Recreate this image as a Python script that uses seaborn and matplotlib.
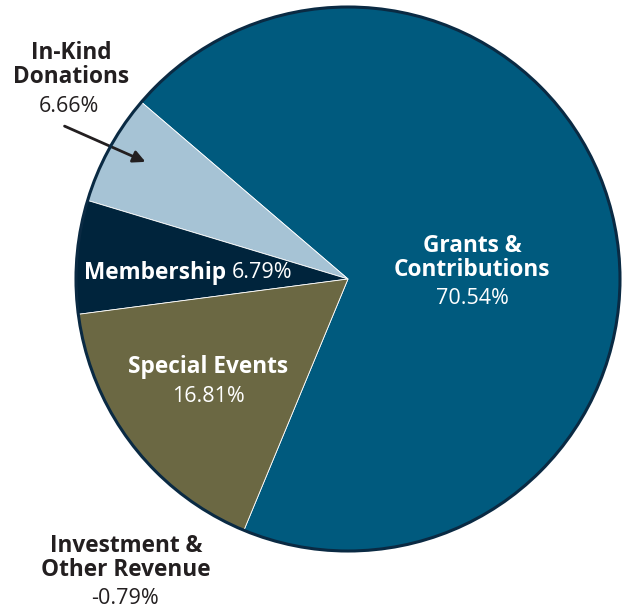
"""
Revenue breakdown pie chart
"""

import matplotlib.pyplot as plt
import seaborn as sns
from matplotlib.patches import Circle

# ============================================================
# Data
# ============================================================
categories = ["Grants &\nContributions", "In-Kind\nDonations", "Membership",
              "Special Events", "Investment &\nOther Revenue"]
values = [70.54, 6.66, 6.79, 16.81, -0.79]
colors = ["#005A7E", "#A6C3D5", "#00243C", "#6B6843"]

sns.set_theme(style="white")
plt.rcParams["font.family"] = ["Open Sans", "DejaVu Sans"]

DARK = "#231F20"
OUTLINE = "#0A2A43"
CX, CY, R = 348, 279, 272   # pie centre / radius in pixels


def px(x, y):
    """pixel position -> data coordinates (pie radius = 1)"""
    return (x - CX) / R, (CY - y) / R


fig = plt.figure(figsize=(6.23, 6.09), dpi=100)
ax = fig.add_axes([0, 0, 1, 1])

# only positive shares can be drawn as wedges
pos_vals = [v for v in values if v > 0]
ax.pie(pos_vals, colors=colors, startangle=-112.5, counterclock=True,
       radius=1.0, wedgeprops=dict(edgecolor="white", linewidth=0.6))
ax.add_patch(Circle((0, 0), 1.0, fill=False, edgecolor=OUTLINE, linewidth=2.2, zorder=5))

x0, y0 = px(0, 0)
x1, y1 = px(623, 609)
ax.set_xlim(x0, x1)
ax.set_ylim(y1, y0)
ax.set_aspect("equal")
ax.axis("off")

BOLD = dict(fontsize=16.3, fontweight="bold")
REG = dict(fontsize=15.5, fontweight="normal")
LS = 0.95

# Grants & Contributions
ax.text(*px(472, 258), categories[0], color="white", ha="center", va="center",
        linespacing=LS, **BOLD)
ax.text(*px(472, 299), f"{values[0]:.2f}%", color="white", ha="center", va="center", **REG)

# Special Events
ax.text(*px(208, 367), categories[3], color="white", ha="center", va="center", **BOLD)
ax.text(*px(208, 396), f"{values[3]:.2f}%", color="white", ha="center", va="center", **REG)

# Membership (one line, mixed weights)
ax.text(*px(84, 273), categories[2], color="white", ha="left", va="center", **BOLD)
ax.text(*px(232, 273), f"{values[2]:.2f}%", color="white", ha="left", va="center", **REG)

# In-Kind Donations with arrow
ax.text(*px(71, 65), categories[1], color=DARK, ha="center", va="center",
        linespacing=LS, **BOLD)
ax.text(*px(69, 106), f"{values[1]:.2f}%", color=DARK, ha="center", va="center", **REG)
ax.annotate("", xy=px(148, 163), xytext=px(62, 125),
            arrowprops=dict(arrowstyle="-|>", color=DARK, lw=2, mutation_scale=18))

# Investment & Other Revenue (negative share, label only)
ax.text(*px(126, 558), categories[4], color=DARK, ha="center", va="center",
        linespacing=LS, **BOLD)
ax.text(*px(125, 598), f"{values[4]:.2f}%", color=DARK, ha="center", va="center", **REG)

plt.savefig("out.png", dpi=100)
plt.close()
